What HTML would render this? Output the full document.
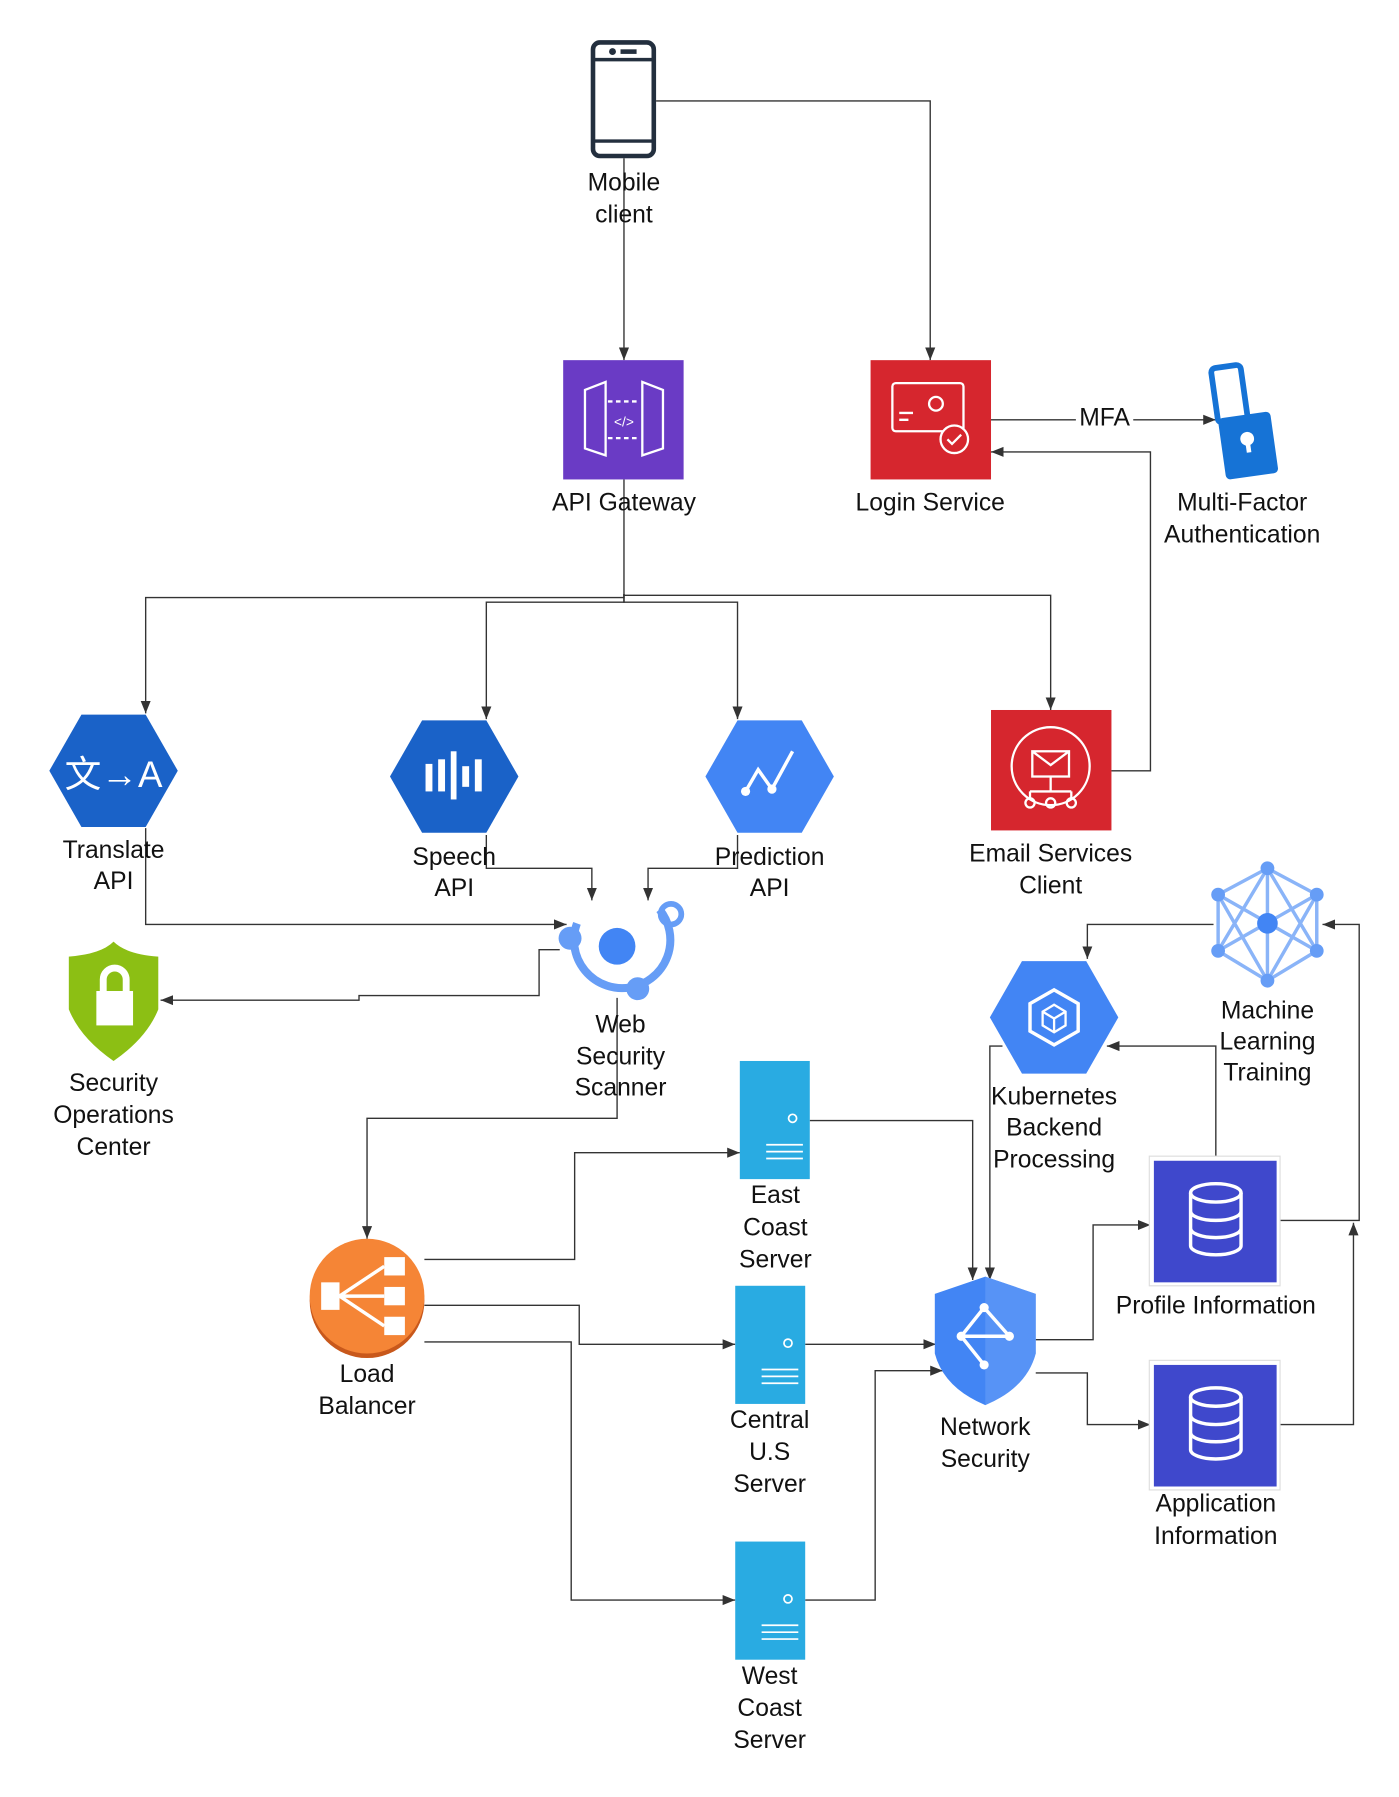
<!DOCTYPE html>
<html><head><meta charset="utf-8"><style>
html,body{margin:0;padding:0;background:#fff;}
svg{display:block;}
text{font-family:"Liberation Sans",sans-serif;font-size:21.5px;fill:#111;text-anchor:middle;}
.c{fill:none;stroke:#333;stroke-width:1.2;}
</style></head><body>
<svg width="1399" height="1797" viewBox="0 0 1219.7 1566.7" preserveAspectRatio="none" xmlns="http://www.w3.org/2000/svg">
<defs>
<marker id="a" viewBox="0 0 10 10" refX="10" refY="5" markerWidth="11" markerHeight="11" orient="auto-start-reverse" markerUnits="userSpaceOnUse"><path d="M0,1 L10,5 L0,9 z" fill="#333"/></marker>
</defs>
<g class="c" marker-end="url(#a)">
<polyline points="544,138 544,314"/>
<polyline points="572,88 811,88 811,314"/>
<polyline points="864,366 1060,366"/>
<polyline points="969,672 1003,672 1003,394 864,394"/>
<polyline points="544,418 544,518 544,521 127,521 127,622"/>
<polyline points="544,518 544,525 424,525 424,627"/>
<polyline points="544,518 544,525 643,525 643,627"/>
<polyline points="544,518 544,519 916,519 916,619"/>
<polyline points="424,728 424,757 516,757 516,785"/>
<polyline points="643,728 643,757 565,757 565,785"/>
<polyline points="127,722 127,806 494,806"/>
<polyline points="488,828 470,828 470,868 313,868 313,872 140,872"/>
<polyline points="538,870 538,975 320,975 320,1080"/>
<polyline points="370,1098 501,1098 501,1005 645,1005"/>
<polyline points="370,1138 505,1138 505,1172 641,1172"/>
<polyline points="370,1170 498,1170 498,1395 641,1395"/>
<polyline points="706,977 848,977 848,1116"/>
<polyline points="702,1172 816,1172"/>
<polyline points="702,1395 763,1395 763,1195 822,1195"/>
<polyline points="903,1168 953,1168 953,1068 1003,1068"/>
<polyline points="903,1197 948,1197 948,1242 1003,1242"/>
<polyline points="1060,1011 1060,912 965,912"/>
<polyline points="1116,1064 1185,1064 1185,806 1153,806"/>
<polyline points="1116,1242 1180,1242 1180,1066"/>
<polyline points="1058,806 948,806 948,836"/>
<polyline points="874,912 863,912 863,1116"/>
</g>
<rect x="938" y="352" width="50" height="24" fill="#fff"/>
<text x="963" y="371">MFA</text>

<!-- phone -->
<rect x="517" y="37" width="53" height="99" rx="6" fill="none" stroke="#232F3E" stroke-width="4"/>
<line x1="517" y1="52" x2="570" y2="52" stroke="#232F3E" stroke-width="3"/>
<line x1="517" y1="123" x2="570" y2="123" stroke="#232F3E" stroke-width="3"/>
<circle cx="534" cy="45" r="3" fill="#232F3E"/><rect x="541" y="43" width="14" height="4" fill="#232F3E"/>
<text x="544" y="166">Mobile</text><text x="544" y="194">client</text>

<!-- API gateway -->
<rect x="491" y="314" width="105" height="104" fill="#6A3BC5"/>
<path d="M510,340 L528,333 L528,397 L510,391 Z M578,340 L560,333 L560,397 L578,391 Z" fill="none" stroke="#fff" stroke-width="2"/>
<path d="M530,350 H558 M530,382 H558" stroke="#fff" stroke-width="2" stroke-dasharray="4,3"/>
<text x="544" y="372" style="font-size:12px;fill:#fff">&lt;/&gt;</text>
<text x="544" y="445">API Gateway</text>

<!-- Login -->
<rect x="759" y="314" width="105" height="104" fill="#D6262E"/>
<rect x="778" y="334" width="62" height="42" rx="3" fill="none" stroke="#fff" stroke-width="2"/>
<circle cx="816" cy="352" r="6" fill="none" stroke="#fff" stroke-width="2"/>
<path d="M784,360 h12 M784,366 h8" stroke="#fff" stroke-width="2"/>
<circle cx="832" cy="383" r="12" fill="#D6262E" stroke="#fff" stroke-width="2"/>
<path d="M826,383 l4,4 l8,-8" fill="none" stroke="#fff" stroke-width="2"/>
<text x="811" y="445">Login Service</text>

<!-- MFA icon -->
<g transform="rotate(-8 1083 366)">
<rect x="1062" y="318" width="26" height="48" rx="4" fill="none" stroke="#1673D6" stroke-width="5"/>
<rect x="1062" y="362" width="46" height="54" rx="4" fill="#1673D6"/>
<circle cx="1085" cy="383" r="6" fill="#fff"/><rect x="1083" y="383" width="4" height="12" fill="#fff"/>
</g>
<text x="1083" y="445">Multi-Factor</text><text x="1083" y="473">Authentication</text>

<!-- hexes -->
<polygon points="71,623 127,623 155,672 127,721 71,721 43,672" fill="#1A62C8"/>
<text x="99" y="686" style="font-size:32px;fill:#fff">文→A</text>
<text x="99" y="748">Translate</text><text x="99" y="775">API</text>

<polygon points="368,628 424,628 452,677 424,726 368,726 340,677" fill="#1A62C8"/>
<g fill="#fff"><rect x="371" y="666" width="6" height="24"/><rect x="382" y="662" width="6" height="28"/><rect x="393" y="655" width="5" height="42"/><rect x="403" y="668" width="6" height="18"/><rect x="414" y="662" width="6" height="28"/></g>
<text x="396" y="754">Speech</text><text x="396" y="781">API</text>

<polygon points="643,628 699,628 727,677 699,726 643,726 615,677" fill="#4285F4"/>
<path d="M650,690 L661,671 L673,688 L691,655" fill="none" stroke="#fff" stroke-width="3"/>
<circle cx="650" cy="690" r="4" fill="#fff"/><circle cx="673" cy="688" r="4" fill="#fff"/>
<text x="671" y="754">Prediction</text><text x="671" y="781">API</text>

<!-- Email -->
<rect x="864" y="619" width="105" height="105" fill="#D6262E"/>
<circle cx="916" cy="668" r="34" fill="none" stroke="#fff" stroke-width="2"/>
<rect x="900" y="655" width="32" height="22" fill="none" stroke="#fff" stroke-width="2"/>
<path d="M900,655 l16,12 l16,-12 M916,677 v13 M898,690 h36 M898,690 v6 M934,690 v6" fill="none" stroke="#fff" stroke-width="2"/>
<circle cx="898" cy="700" r="4" fill="none" stroke="#fff" stroke-width="2"/><circle cx="916" cy="700" r="4" fill="none" stroke="#fff" stroke-width="2"/><circle cx="934" cy="700" r="4" fill="none" stroke="#fff" stroke-width="2"/>
<text x="916" y="751">Email Services</text><text x="916" y="779">Client</text>

<!-- Web scanner -->
<path d="M503,805 A42,42 0 1 0 575,793" fill="none" stroke="#669DF6" stroke-width="7"/>
<circle cx="538" cy="825" r="16" fill="#4285F4"/>
<circle cx="497" cy="818" r="10" fill="#669DF6"/><circle cx="556" cy="862" r="10" fill="#669DF6"/>
<circle cx="585" cy="797" r="9" fill="none" stroke="#669DF6" stroke-width="5"/>
<text x="541" y="900">Web</text><text x="541" y="928">Security</text><text x="541" y="955">Scanner</text>

<!-- SOC -->
<path d="M99,821 Q110,832 138,834 L138,880 Q128,905 99,925 Q70,905 60,880 L60,834 Q88,832 99,821 Z" fill="#8CBF14"/>
<rect x="84" y="864" width="32" height="30" fill="#fff"/>
<path d="M90,864 v-10 a10,10 0 0 1 20,0 v10" fill="none" stroke="#fff" stroke-width="6"/>
<text x="99" y="951">Security</text><text x="99" y="979">Operations</text><text x="99" y="1007">Center</text>

<!-- Load balancer -->
<circle cx="320" cy="1134" r="50" fill="#C8581B"/>
<circle cx="320" cy="1130" r="50" fill="#F58536"/>
<g fill="#fff"><rect x="280" y="1118" width="16" height="24"/><rect x="335" y="1096" width="18" height="16"/><rect x="335" y="1122" width="18" height="16"/><rect x="335" y="1148" width="18" height="16"/></g>
<path d="M296,1130 L335,1104 M296,1130 L335,1130 M296,1130 L335,1156" stroke="#fff" stroke-width="3"/>
<text x="320" y="1205">Load</text><text x="320" y="1233">Balancer</text>

<!-- servers -->
<g fill="#29ABE2"><rect x="645" y="925" width="61" height="103"/><rect x="641" y="1121" width="61" height="103"/><rect x="641" y="1344" width="61" height="103"/></g>
<g fill="none" stroke="#fff" stroke-width="1.5">
<circle cx="691" cy="975" r="3.5"/><path d="M668,998 h32 M668,1004 h32 M668,1010 h32"/>
<circle cx="687" cy="1171" r="3.5"/><path d="M664,1194 h32 M664,1200 h32 M664,1206 h32"/>
<circle cx="687" cy="1394" r="3.5"/><path d="M664,1417 h32 M664,1423 h32 M664,1429 h32"/>
</g>
<text x="676" y="1049">East</text><text x="676" y="1077">Coast</text><text x="676" y="1105">Server</text>
<text x="671" y="1245">Central</text><text x="671" y="1273">U.S</text><text x="671" y="1301">Server</text>
<text x="671" y="1468">West</text><text x="671" y="1496">Coast</text><text x="671" y="1524">Server</text>

<!-- Network security -->
<path d="M859,1113 L903,1128 L903,1180 Q895,1210 859,1225 Q823,1210 815,1180 L815,1128 Z" fill="#4285F4"/>
<path d="M859,1113 L903,1128 L903,1180 Q895,1210 859,1225 Z" fill="#669DF6" opacity="0.6"/>
<path d="M858,1140 L838,1165 L858,1190 M858,1140 L880,1165 L838,1165" fill="none" stroke="#fff" stroke-width="3"/>
<circle cx="858" cy="1140" r="4" fill="#fff"/><circle cx="880" cy="1165" r="4" fill="#fff"/><circle cx="838" cy="1165" r="4" fill="#fff"/><circle cx="858" cy="1190" r="4" fill="#fff"/>
<text x="859" y="1251">Network</text><text x="859" y="1279">Security</text>

<!-- DBs -->
<rect x="1002" y="1008" width="114" height="113" fill="#fff" stroke="#ddd"/>
<rect x="1006" y="1012" width="107" height="106" fill="#3F48CC"/>
<rect x="1002" y="1186" width="114" height="113" fill="#fff" stroke="#ddd"/>
<rect x="1006" y="1190" width="107" height="106" fill="#3F48CC"/>
<g fill="none" stroke="#fff" stroke-width="3">
<ellipse cx="1060" cy="1040" rx="22" ry="8"/><path d="M1038,1040 v46 a22,8 0 0 0 44,0 v-46 M1038,1056 a22,8 0 0 0 44,0 M1038,1071 a22,8 0 0 0 44,0"/>
<ellipse cx="1060" cy="1218" rx="22" ry="8"/><path d="M1038,1218 v46 a22,8 0 0 0 44,0 v-46 M1038,1234 a22,8 0 0 0 44,0 M1038,1249 a22,8 0 0 0 44,0"/>
</g>
<text x="1060" y="1145">Profile Information</text>
<text x="1060" y="1318">Application</text><text x="1060" y="1346">Information</text>

<!-- ML -->
<g stroke="#8AB4F8" stroke-width="3" fill="none">
<polygon points="1105,757 1148,780 1148,829 1105,855 1062,829 1062,780"/>
<path d="M1105,757 L1105,855 M1062,780 L1148,829 M1148,780 L1062,829 M1105,757 L1062,829 M1105,757 L1148,829 M1062,780 L1105,855 M1148,780 L1105,855"/>
</g>
<g fill="#669DF6"><circle cx="1105" cy="757" r="6"/><circle cx="1148" cy="780" r="6"/><circle cx="1148" cy="829" r="6"/><circle cx="1105" cy="855" r="6"/><circle cx="1062" cy="829" r="6"/><circle cx="1062" cy="780" r="6"/><circle cx="1105" cy="805" r="9" fill="#4285F4"/></g>
<text x="1105" y="888">Machine</text><text x="1105" y="915">Learning</text><text x="1105" y="942">Training</text>

<!-- K8s -->
<polygon points="891,838 947,838 975,887 947,936 891,936 863,887" fill="#4285F4"/>
<polygon points="919,863 940,875 940,899 919,911 898,899 898,875" fill="none" stroke="#fff" stroke-width="3"/>
<path d="M919,876 l10,6 v12 l-10,6 l-10,-6 v-12 z M909,882 l10,6 l10,-6 M919,888 v12" fill="none" stroke="#fff" stroke-width="2"/>
<text x="919" y="963">Kubernetes</text><text x="919" y="990">Backend</text><text x="919" y="1018">Processing</text>
</svg>
</body></html>
